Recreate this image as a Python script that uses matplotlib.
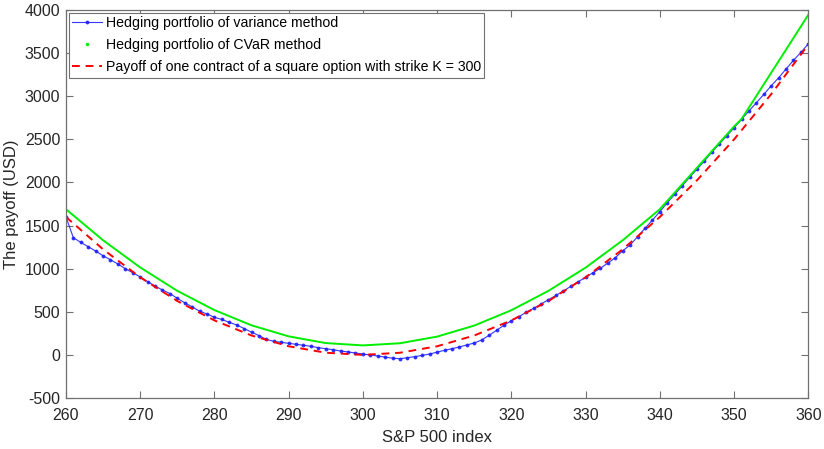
import matplotlib
matplotlib.use("Agg")
import matplotlib.pyplot as plt
from matplotlib.lines import Line2D

plt.rcParams['font.family'] = ['Liberation Sans', 'DejaVu Sans']
plt.rcParams['axes.unicode_minus'] = False

# S&P 500 index grid for the variance-method portfolio (one point per index unit)
s_var = list(range(260, 361))
var_payoff = [
    1603, 1359, 1306, 1255, 1205, 1150, 1104, 1054, 1000, 953,   # 260-269
    905, 849, 799, 753, 712, 656, 605, 557, 507, 474,            # 270-279
    436, 411, 378, 347, 306, 264, 223, 180, 157, 146,            # 280-289
    134, 123, 111, 100, 84, 72, 60, 45, 34, 22,                  # 290-299
    10, -1, -13, -26, -38, -45, -32, -21, -5, 10,                # 300-309
    32, 53, 72, 92, 115, 138, 173, 227, 285, 343,                # 310-319
    397, 443, 494, 540, 590, 640, 690, 741, 795, 849,            # 320-329
    900, 953, 1005, 1066, 1127, 1208, 1275, 1371, 1468, 1564,    # 330-339
    1661, 1765, 1862, 1959, 2060, 2153, 2249, 2350, 2446, 2539,  # 340-349
    2635, 2732, 2829, 2925, 3022, 3122, 3215, 3316, 3417, 3509,  # 350-359
    3609,                                                        # 360
]

# CVaR-method portfolio
s_cvar = [260, 265, 270, 275, 280, 285, 290, 295, 300, 305, 310, 315,
          320, 325, 330, 335, 340, 345, 350, 351, 360]
cvar_payoff = [1690, 1330, 1015, 743, 520, 343, 215, 137, 110, 135, 212, 340,
               518, 743, 1012, 1330, 1690, 2170, 2650, 2735, 3945]

# Payoff of the square option (strike 300)
s_opt = [260, 265, 270, 275, 280, 285, 290, 295, 300, 305, 310, 315, 320,
         325, 330, 335, 340, 345, 350, 355, 360]
opt_payoff = [1600, 1225, 900, 625, 400, 225, 100, 25, 0, 25, 100, 225, 400,
              625, 900, 1225, 1600, 2025, 2500, 3025, 3600]

labels = ["Hedging portfolio of variance method",
          "Hedging portfolio of CVaR method",
          "Payoff of one contract of a square option with strike K = 300"]
x_ticks = list(range(260, 361, 10))
y_ticks = list(range(-500, 4001, 500))

fig = plt.figure(figsize=(8.24, 4.49), dpi=100)
ax = fig.add_axes([0.080, 0.1136, 0.901, 0.864])

blue_line, = ax.plot(s_var, var_payoff, color='#2020ff', linewidth=0.8,
                     marker='.', markersize=4.5, markeredgewidth=0.5, alpha=0.9)
ax.plot(s_cvar, cvar_payoff, color='#00ee00', linewidth=1.4)
red_line, = ax.plot(s_opt, opt_payoff, color='#ff0000', linewidth=1.4,
                    linestyle=(0, (4, 3)))

ax.set_xlim(260, 360)
ax.set_ylim(-500, 4000)
ax.set_xticks(x_ticks)
ax.set_yticks(y_ticks)
ax.tick_params(direction='in', top=True, right=True, length=5, width=0.8,
               color='#707070', labelsize=11.5, labelcolor='#262626')
ax.tick_params(axis='x', pad=7)
ax.tick_params(axis='y', pad=4)
for sp in ax.spines.values():
    sp.set_color('#707070')
    sp.set_linewidth(0.9)

ax.set_xlabel("S&P 500 index", fontsize=12, color='#262626', labelpad=5)
ax.set_ylabel("The payoff (USD)", fontsize=12, color='#262626', labelpad=4)

green_proxy = Line2D([], [], color='#00ee00', marker='.', linestyle='None',
                     markersize=3)
leg = ax.legend([blue_line, green_proxy, red_line], labels, loc='upper left',
                fontsize=10.2, frameon=True, fancybox=False, framealpha=1,
                edgecolor='#707070', borderaxespad=0.2, borderpad=0.25,
                handlelength=2.1, handletextpad=0.25, labelspacing=0.55)
leg.get_frame().set_linewidth(0.8)

fig.savefig("out.png", dpi=100)
